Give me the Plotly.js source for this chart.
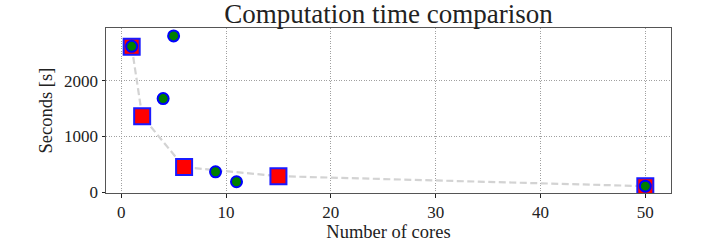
<!DOCTYPE html>
<html>
<head>
<meta charset="utf-8">
<script src="https://cdn.plot.ly/plotly-3.0.1.min.js"></script>
<style>html,body{margin:0;padding:0;background:#fff;}#chart{width:706px;height:243px;}</style>
</head>
<body>
<div id="chart"></div>
<script>
// Square series (also joined by the dashed line)
const squareCores = [1, 2, 6, 15, 50];
const squareSeconds = [2615, 1365, 450, 287, 108];
// Circle series
const circleCores = [1, 5, 4, 9, 11, 50];
const circleSeconds = [2620, 2808, 1682, 366, 187, 108];

const titleText = "Computation time comparison";
const xTitle = "Number of cores";
const yTitle = "Seconds [s]";
const xTicks = [0, 10, 20, 30, 40, 50];
const yTicks = [0, 1000, 2000];

const font = "Liberation Serif, DejaVu Serif, serif";

const traces = [
  {
    x: squareCores, y: squareSeconds, type: "scatter", mode: "lines",
    line: {color: "#d3d3d3", width: 2.2, dash: "7px,3.5px"},
    hoverinfo: "skip", showlegend: false
  },
  {
    x: squareCores, y: squareSeconds, type: "scatter", mode: "markers",
    marker: {symbol: "square", size: 16, color: "#ff0000", line: {color: "#1a1aff", width: 2}},
    showlegend: false
  },
  {
    x: circleCores, y: circleSeconds, type: "scatter", mode: "markers",
    marker: {symbol: "circle", size: 11, color: "#007f00", line: {color: "#0000ff", width: 2}},
    showlegend: false
  }
];

const axisCommon = {
  showgrid: true, gridcolor: "#a0a0a0", griddash: "1px,1.5px", gridwidth: 1,
  zeroline: false, showline: true, mirror: true, linecolor: "#555", linewidth: 1,
  ticks: "outside", ticklen: 3.5, tickwidth: 1, tickcolor: "#222",
  tickfont: {family: font, size: 17, color: "#222"}
};

const layout = {
  width: 706, height: 243, autosize: false,
  margin: {l: 106, r: 35, t: 28, b: 50, pad: 0},
  paper_bgcolor: "#fff", plot_bgcolor: "#fff",
  title: {text: titleText, font: {family: font, size: 27, color: "#222"},
          xref: "paper", x: 0.5, xanchor: "center", y: 0.945, yanchor: "middle"},
  xaxis: Object.assign({}, axisCommon, {
    range: [-1.45, 52.45], tickvals: xTicks, ticktext: xTicks.map(String),
    title: {text: xTitle, font: {family: font, size: 18.5, color: "#222"}, standoff: 4}
  }),
  yaxis: Object.assign({}, axisCommon, {
    range: [-15, 2950], tickvals: yTicks, ticktext: yTicks.map(String),
    title: {text: yTitle, font: {family: font, size: 18.5, color: "#222"}, standoff: 6}
  })
};

Plotly.newPlot("chart", traces, layout, {displayModeBar: false, staticPlot: true});
</script>
</body>
</html>
